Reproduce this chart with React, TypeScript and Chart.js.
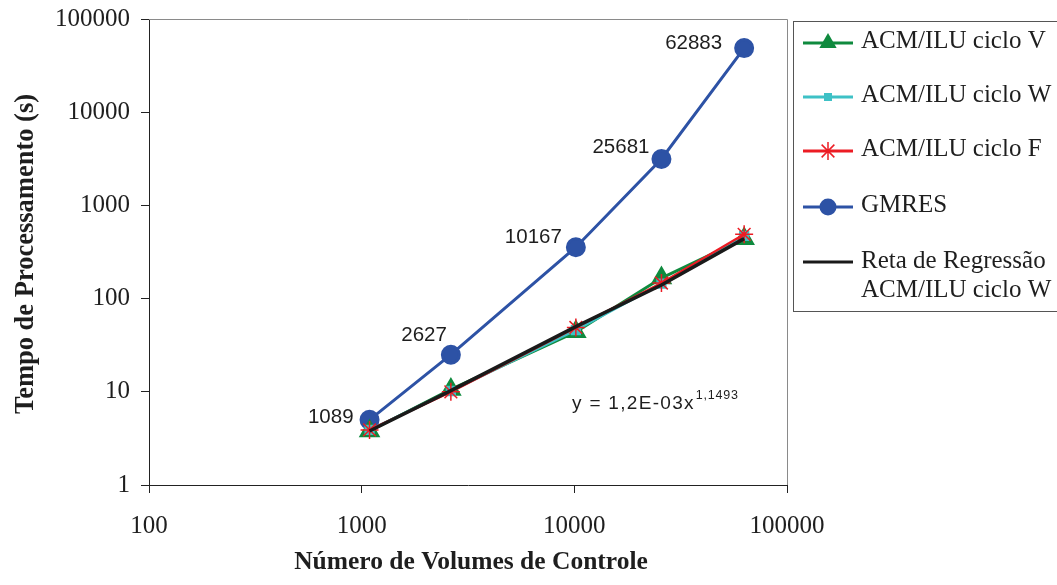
import { useEffect, useRef } from "react";
import { Chart, registerables } from "chart.js";

Chart.register(...registerables);

// ---------- data ----------
const volumes = [1089, 2627, 10167, 25681, 62883];
const cicloV = [3.8, 10.6, 44, 166, 440];
const cicloW = [3.9, 10.2, 46, 145, 470];
const cicloF = [3.9, 10.0, 49, 147, 490];
const gmres = [5.0, 25, 356, 3150, 48700];
const regressao = [3.8, 10.3, 50, 140, 440];
const gmresLabels = ["1089", "2627", "10167", "25681", "62883"];

const xTicks = [100, 1000, 10000, 100000];
const yTicks = [1, 10, 100, 1000, 10000, 100000];

const nameV = "ACM/ILU ciclo V";
const nameW = "ACM/ILU ciclo W";
const nameF = "ACM/ILU ciclo F";
const nameG = "GMRES";
const nameR = ["Reta de Regressão", "ACM/ILU ciclo W"];

const xTitle = "Número de Volumes de Controle";
const yTitle = "Tempo de Processamento (s)";
const equation = "y = 1,2E-03x";
const exponent = "1,1493";

// ---------- style ----------
const C_GREEN = "#0f8a3e";
const C_CYAN = "#3ec1c6";
const C_RED = "#ec1c24";
const C_BLUE = "#2d52a5";
const C_BLACK = "#1a1a1a";
const TXT = "#1e1e1e";
const SERIF = '"Liberation Serif", "Times New Roman", serif';
const SANS = '"Liberation Sans", Arial, sans-serif';

const pts = (ys: number[]) => volumes.map((x, i) => ({ x, y: ys[i] }));

function drawMarker(ctx: CanvasRenderingContext2D, kind: string, x: number, y: number, color: string) {
  ctx.save();
  ctx.fillStyle = color;
  ctx.strokeStyle = color;
  if (kind === "triangle") {
    const r = 10;
    ctx.beginPath();
    for (let k = 0; k < 3; k++) {
      const a = (k * 2 * Math.PI) / 3;
      const px = x + Math.sin(a) * r;
      const py = y - Math.cos(a) * r;
      if (k === 0) ctx.moveTo(px, py);
      else ctx.lineTo(px, py);
    }
    ctx.closePath();
    ctx.fill();
  } else if (kind === "rect") {
    ctx.fillRect(x - 4, y - 4, 8, 8);
  } else if (kind === "star") {
    const r = 9;
    ctx.lineWidth = 1.5;
    ctx.beginPath();
    ctx.moveTo(x - r, y);
    ctx.lineTo(x + r, y);
    ctx.moveTo(x, y - r);
    ctx.lineTo(x, y + r);
    const d = r * Math.SQRT1_2;
    ctx.moveTo(x - d, y - d);
    ctx.lineTo(x + d, y + d);
    ctx.moveTo(x - d, y + d);
    ctx.lineTo(x + d, y - d);
    ctx.stroke();
  } else if (kind === "circle") {
    ctx.beginPath();
    ctx.arc(x, y, 8.5, 0, Math.PI * 2);
    ctx.fill();
  }
  ctx.restore();
}

const overlayPlugin = {
  id: "overlay",
  afterDraw(chart: any) {
    const ctx: CanvasRenderingContext2D = chart.ctx;
    const area = chart.chartArea;
    ctx.save();

    // plot frame (top + right)
    ctx.strokeStyle = "#8a8a8a";
    ctx.lineWidth = 1;
    ctx.beginPath();
    ctx.moveTo(area.left, Math.round(area.top) + 0.5);
    ctx.lineTo(Math.round(area.right) + 0.5, Math.round(area.top) + 0.5);
    ctx.lineTo(Math.round(area.right) + 0.5, area.bottom);
    ctx.stroke();

    // axis titles
    ctx.fillStyle = TXT;
    ctx.font = `bold 25.5px ${SERIF}`;
    ctx.textAlign = "center";
    ctx.textBaseline = "middle";
    ctx.fillText(xTitle, (area.left + area.right) / 2 + 3, 562);
    ctx.save();
    ctx.translate(26, (area.top + area.bottom) / 2 + 2);
    ctx.rotate(-Math.PI / 2);
    ctx.font = `bold 26.5px ${SERIF}`;
    ctx.fillText(yTitle, 0, 0);
    ctx.restore();

    // GMRES data labels
    const meta = chart.getDatasetMeta(4);
    const offsets = [
      [-16, -3],
      [-4, -19],
      [-14, -10],
      [-12, -12],
      [-22, -5],
    ];
    ctx.font = `20.5px ${SANS}`;
    ctx.textAlign = "right";
    ctx.textBaseline = "middle";
    meta.data.forEach((p: any, i: number) => {
      ctx.fillText(gmresLabels[i], p.x + offsets[i][0], p.y + offsets[i][1]);
    });

    // regression equation
    ctx.textAlign = "left";
    ctx.textBaseline = "alphabetic";
    ctx.font = `19px ${SANS}`;
    (ctx as any).letterSpacing = "1.3px";
    ctx.fillText(equation, 572, 409);
    const w = ctx.measureText(equation).width;
    ctx.font = `12.5px ${SANS}`;
    (ctx as any).letterSpacing = "0.8px";
    ctx.fillText(exponent, 572 + w + 1, 399);
    (ctx as any).letterSpacing = "0px";

    // legend
    const lx = 793.5;
    const ly = 21.5;
    ctx.strokeStyle = "#555";
    ctx.lineWidth = 1;
    ctx.strokeRect(lx, ly, 300, 290);
    const entries: [string | string[], string, string, number][] = [
      [nameV, C_GREEN, "triangle", 43],
      [nameW, C_CYAN, "rect", 97],
      [nameF, C_RED, "star", 151],
      [nameG, C_BLUE, "circle", 207],
      [nameR, C_BLACK, "none", 262],
    ];
    ctx.font = `25px ${SERIF}`;
    ctx.textAlign = "left";
    ctx.textBaseline = "middle";
    entries.forEach(([name, color, kind, y]) => {
      ctx.strokeStyle = color;
      ctx.lineWidth = 3;
      ctx.beginPath();
      ctx.moveTo(803, y);
      ctx.lineTo(853, y);
      ctx.stroke();
      drawMarker(ctx, kind, 828, y, color);
      ctx.fillStyle = TXT;
      if (Array.isArray(name)) {
        ctx.fillText(name[0], 861, y - 1);
        ctx.fillText(name[1], 861, y + 28);
      } else {
        ctx.fillText(name, 861, y - 2);
      }
    });

    ctx.restore();
  },
};

const axisCommon = (ticks: number[]) => ({
  type: "logarithmic" as const,
  min: ticks[0],
  max: ticks[ticks.length - 1],
  afterBuildTicks: (s: any) => {
    s.ticks = ticks.map((v) => ({ value: v }));
  },
  grid: {
    display: true,
    drawOnChartArea: false,
    drawTicks: true,
    tickLength: 8,
    color: "#222",
    lineWidth: 1,
  },
  border: { display: true, color: "#222", width: 1 },
  ticks: {
    callback: (v: any) => String(v),
    font: { family: SERIF, size: 25 },
    color: TXT,
    autoSkip: false,
    maxRotation: 0,
  },
});

export default function App() {
  const ref = useRef<HTMLCanvasElement>(null);

  useEffect(() => {
    const xAxis: any = axisCommon(xTicks);
    xAxis.afterFit = (s: any) => {
      s.height = 100;
      s.paddingLeft = 0;
      s.paddingRight = 0;
    };
    xAxis.ticks.padding = 18;
    const yAxis: any = axisCommon(yTicks);
    yAxis.afterFit = (s: any) => {
      s.width = 149;
      s.paddingTop = 0;
      s.paddingBottom = 0;
    };
    yAxis.ticks.padding = 11;

    const chart = new Chart(ref.current as HTMLCanvasElement, {
      type: "line",
      data: {
        datasets: [
          {
            label: nameR.join(" "),
            data: pts(regressao),
            borderColor: C_BLACK,
            borderWidth: 3.5,
            pointRadius: 0,
            order: 0,
          },
          {
            label: nameF,
            data: pts(cicloF),
            borderColor: C_RED,
            borderWidth: 2.5,
            pointStyle: "star",
            pointRadius: 9,
            pointBorderColor: C_RED,
            pointBorderWidth: 1.5,
            order: 1,
          },
          {
            label: nameW,
            data: pts(cicloW),
            borderColor: C_CYAN,
            borderWidth: 2.5,
            pointStyle: "rect",
            pointRadius: 5.5,
            pointBackgroundColor: C_CYAN,
            pointBorderColor: C_CYAN,
            order: 2,
          },
          {
            label: nameV,
            data: pts(cicloV),
            borderColor: C_GREEN,
            borderWidth: 3,
            pointStyle: "triangle",
            pointRadius: 9.5,
            pointBackgroundColor: C_GREEN,
            pointBorderColor: C_GREEN,
            order: 3,
          },
          {
            label: nameG,
            data: pts(gmres),
            borderColor: C_BLUE,
            borderWidth: 3,
            pointStyle: "circle",
            pointRadius: 8.5,
            pointBackgroundColor: C_BLUE,
            pointBorderColor: C_BLUE,
            order: 4,
          },
        ],
      },
      options: {
        responsive: false,
        animation: false,
        clip: false as any,
        layout: { padding: { left: 0, right: 270, top: 19, bottom: 0 } },
        plugins: {
          legend: { display: false },
          tooltip: { enabled: false },
        },
        scales: { x: xAxis, y: yAxis },
      },
      plugins: [overlayPlugin],
    });
    return () => chart.destroy();
  }, []);

  return (
    <div
      style={{
        position: "fixed",
        left: 0,
        top: 0,
        width: 1057,
        height: 585,
        background: "#fff",
      }}
    >
      <canvas
        ref={ref}
        width={1057}
        height={585}
        style={{ display: "block", width: 1057, height: 585 }}
      />
    </div>
  );
}
